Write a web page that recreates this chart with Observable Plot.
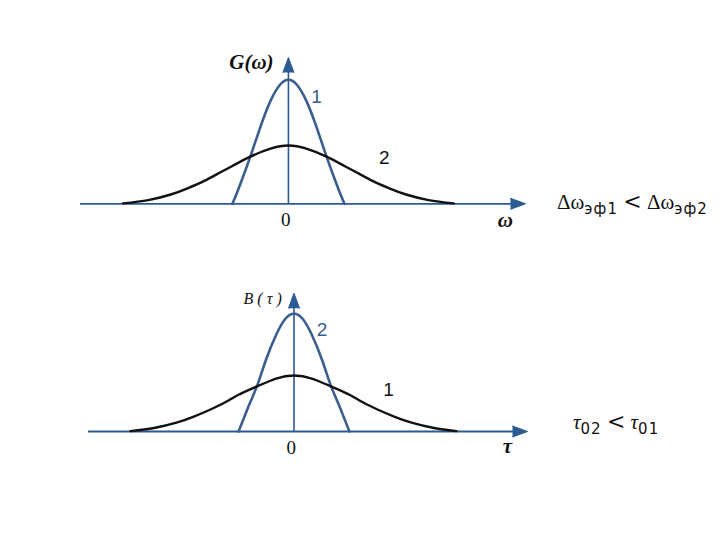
<!DOCTYPE html>
<html><head><meta charset="utf-8">
<script src="https://cdn.jsdelivr.net/npm/d3@7"></script>
<script src="https://cdn.jsdelivr.net/npm/@observablehq/plot@0.6"></script>
<style>
html,body{margin:0;padding:0;background:#fff;}
#wrap{position:relative;width:720px;height:540px;overflow:hidden;background:#fff;}
#top,#bot{position:absolute;left:0;}
#top{top:0;} #bot{top:270px;}
.f{position:absolute;white-space:nowrap;font-family:"Liberation Serif",serif;color:#111;line-height:1;}
.f .s{font-family:"DejaVu Sans",sans-serif;font-size:15px;position:relative;top:5px;letter-spacing:1px;}
.f .lt{font-family:"DejaVu Serif",serif;font-size:22px;}
</style></head><body>
<div id="wrap">
<div id="top"></div><div id="bot"></div>
<div class="f" id="f1" style="left:557px;top:191px;font-size:21px;">Δω<span class="s">эф1</span> <span class="lt">&lt;</span> Δω<span class="s">эф2</span></div>
<div class="f" id="f2" style="left:573px;top:411px;font-size:21px;"><i>τ</i><span class="s">02</span> <span class="lt">&lt;</span> <i>τ</i><span class="s">01</span></div>
</div>
<script>
// Top panel: spectra G(ω)
const omega1 = [-1.0, -0.9, -0.8, -0.68, -0.5, -0.32, -0.15, 0, 0.15, 0.32, 0.5, 0.68, 0.8, 0.9, 1.0];
const G1     = [0, 0.11, 0.23, 0.38, 0.62, 0.83, 0.96, 1, 0.96, 0.83, 0.62, 0.38, 0.23, 0.11, 0];
const omega2 = [-2.95, -2.5, -2.1, -1.8, -1.5, -1.25, -1.0, -0.68, -0.32, 0, 0.32, 0.68, 1.0, 1.25, 1.5, 1.8, 2.1, 2.5, 2.95];
const G2     = [0.003, 0.03, 0.075, 0.125, 0.185, 0.245, 0.305, 0.38, 0.445, 0.47, 0.445, 0.38, 0.305, 0.245, 0.185, 0.125, 0.075, 0.03, 0.003];
// Bottom panel: correlation functions B(τ)
const tau2 = [-0.99, -0.89, -0.78, -0.65, -0.5, -0.32, -0.15, 0, 0.15, 0.32, 0.5, 0.65, 0.78, 0.89, 0.99];
const B2   = [0, 0.12, 0.25, 0.4, 0.61, 0.82, 0.96, 1, 0.96, 0.82, 0.61, 0.4, 0.25, 0.12, 0];
const tau1 = [-2.92, -2.5, -2.1, -1.8, -1.5, -1.22, -1.0, -0.65, -0.32, 0, 0.32, 0.65, 1.0, 1.22, 1.5, 1.8, 2.1, 2.5, 2.9];
const B1   = [0.003, 0.03, 0.075, 0.125, 0.185, 0.25, 0.31, 0.385, 0.45, 0.476, 0.45, 0.385, 0.31, 0.25, 0.185, 0.125, 0.075, 0.03, 0.003];

const blue = "#3b5e8e", axisBlue = "#2c5a92", black = "#111";
const serif = "Liberation Serif", sans = "Liberation Sans";

function panel({xDomain, xRange, yRange, yTop, xs1, ys1, xs2, ys2, narrowLabel, wideLabel, yLabel, xLabel, yLabelStyle, xLabelSize}) {
  const [x0, x1] = xDomain;
  return Plot.plot({
    width: 720, height: 270, margin: 0,
    x: {domain: xDomain, range: xRange, axis: null},
    y: {domain: [0, 1], range: yRange, axis: null},
    marks: [
      Plot.ruleY([0], {x1: x0, x2: x1 - 0.05, stroke: axisBlue, strokeWidth: 1.8}),
      Plot.ruleX([0], {y1: 0, y2: yTop - 0.05, stroke: axisBlue, strokeWidth: 1.6}),
      Plot.line(xs1, {x: xs1, y: ys1, curve: "natural", stroke: blue, strokeWidth: 2.6}),
      Plot.line(xs2, {x: xs2, y: ys2, curve: "natural", stroke: black, strokeWidth: 2.4}),
      Plot.vector([{x: x1, y: 0}], {x: "x", y: "y", rotate: 90, length: 15, r: 5.5, shape: "spike", anchor: "end", fill: axisBlue, stroke: axisBlue, strokeWidth: 1}),
      Plot.vector([{x: 0, y: yTop}], {x: "x", y: "y", rotate: 0, length: 15, r: 5.5, shape: "spike", anchor: "end", fill: axisBlue, stroke: axisBlue, strokeWidth: 1}),
      Plot.text([narrowLabel], {x: "x", y: "y", text: "t", fill: blue, fontSize: 19, fontFamily: sans}),
      Plot.text([wideLabel], {x: "x", y: "y", text: "t", fill: black, fontSize: 19, fontFamily: sans}),
      Plot.text([yLabel], {x: "x", y: "y", text: "t", fill: black, fontFamily: serif, ...yLabelStyle}),
      Plot.text([{x: -0.05, y: xLabel.zy, t: "0"}], {x: "x", y: "y", text: "t", fill: black, fontSize: 19, fontFamily: serif}),
      Plot.text([xLabel], {x: "x", y: "y", text: "t", fill: black, fontSize: xLabelSize, fontFamily: serif, fontStyle: "italic", fontWeight: "bold"})
    ]
  });
}

document.getElementById("top").append(panel({
  xDomain: [-3.71, 4.23], xRange: [80, 525], yRange: [203.3, 79.3], yTop: 1.18,
  xs1: omega1, ys1: G1, xs2: omega2, ys2: G2,
  narrowLabel: {x: 0.5, y: 0.865, t: "1"},
  wideLabel: {x: 1.71, y: 0.373, t: "2"},
  yLabel: {x: -0.66, y: 1.145, t: "G(ω)"},
  yLabelStyle: {fontSize: 21, fontStyle: "italic", fontWeight: "bold"},
  xLabel: {x: 3.87, y: -0.135, t: "ω", zy: -0.127},
  xLabelSize: 21
}));

document.getElementById("bot").append(panel({
  xDomain: [-3.67, 4.17], xRange: [88, 527], yRange: [161, 43.3], yTop: 1.175,
  xs1: tau2, ys1: B2, xs2: tau1, ys2: B1,
  narrowLabel: {x: 0.5, y: 0.867, t: "2"},
  wideLabel: {x: 1.69, y: 0.357, t: "1"},
  yLabel: {x: -0.56, y: 1.13, t: "B ( τ )"},
  yLabelStyle: {fontSize: 16, fontStyle: "italic"},
  xLabel: {x: 3.81, y: -0.125, t: "τ", zy: -0.136},
  xLabelSize: 21
}));
</script>
</body></html>
